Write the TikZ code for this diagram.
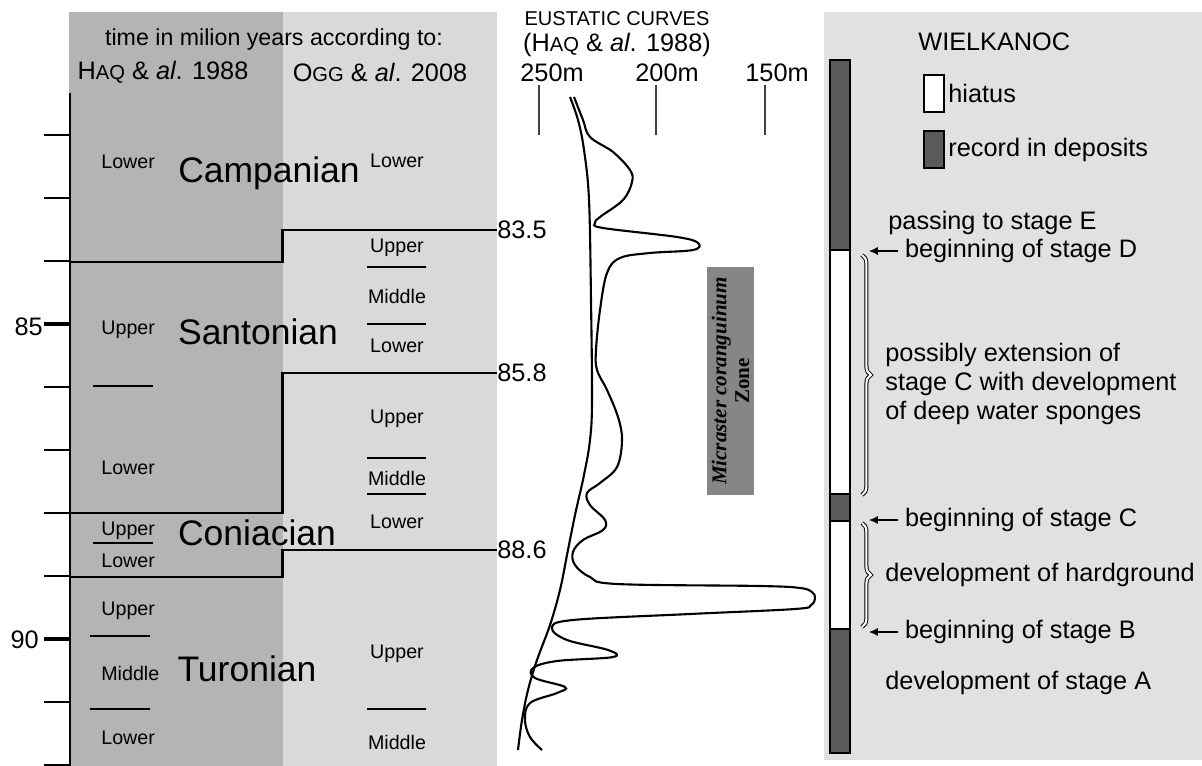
\documentclass[tikz,border=0pt]{standalone}
\usepackage{fontspec}
\setmainfont{Liberation Sans}
\newfontfamily\zonefont{Liberation Serif}
\usetikzlibrary{positioning, arrows.meta, decorations.pathreplacing}
\definecolor{haqgray}{HTML}{B4B4B4}
\definecolor{ogggray}{HTML}{D9D9D9}
\definecolor{sitegray}{HTML}{E1E1E1}
\definecolor{recordgray}{HTML}{5A5A5A}
\definecolor{zonegray}{HTML}{868686}
\newcommand{\fakesc}[1]{{\fontsize{11.5}{14}\selectfont #1}}
\tikzset{txt/.style = {inner sep=0, font=\fontsize{14.4}{16.4}\selectfont}}
\tikzset{headtxt/.style = {inner sep=0, font=\fontsize{13.2}{15}\selectfont}}
\tikzset{subtxt/.style = {inner sep=0, font=\fontsize{11.2}{13}\selectfont}}
\tikzset{stagetxt/.style = {inner sep=0, anchor=base, font=\fontsize{20.2}{24}\selectfont}}
\tikzset{boundary/.style = {line width=1.4pt}}
\tikzset{subline/.style = {line width=0.9pt}}
\tikzset{scaletick/.style = {line width=0.7pt, black!75}}
\tikzset{curve/.style = {line width=1.2pt}}
\tikzset{keybox/.style = {draw, line width=0.6pt, minimum width=0.4cm, minimum height=0.74cm, inner sep=0}}
\tikzset{pointer/.style = {-{Latex[length=5pt,width=4.5pt]}, line width=0.6pt}}
\tikzset{begtxt/.style = {txt, anchor=west, outer xsep=4pt}}
\tikzset{stagebrace/.style = {decorate, decoration={brace, amplitude=5pt}, double=white, double distance=1.2pt, line width=0.55pt}}

\begin{document}
\begin{tikzpicture}[x=0.02cm, y=-0.02cm]
  \useasboundingbox (0,0) rectangle (1202,766);
  \fill[haqgray] (69,12) rectangle (282.5,766);
  \fill[ogggray] (282.5,12) rectangle (497,766);
  \fill[sitegray] (824,12) rectangle (1202,760);

  \node[headtxt] (timehead) at (274,40) {time in milion years according to:};
  \node[txt] (haqhead) at (163,72) {H\fakesc{AQ} \& \textit{al}. 1988};
  \node[txt] (ogghead) at (380,72) {O\fakesc{GG} \& \textit{al}. 2008};

  \draw[line width=1.7pt] (70,93) -- (70,766);
  \foreach \t in {82,...,92}
    \draw[line width=1.2pt] (44,{324+(\t-85)*63}) -- (70,{324+(\t-85)*63});
  \foreach \t in {85,90}
    \draw[line width=2.4pt] (44,{324+(\t-85)*63}) -- (70,{324+(\t-85)*63});
  \node[txt, anchor=east] (a85) at (43,327) {85};
  \node[txt, anchor=east] (a90) at (39,640) {90};

  \node[txt, anchor=west] (b835) at (497,230) {83.5};
  \node[txt, anchor=west] (b858) at (497,373) {85.8};
  \node[txt, anchor=west] (b886) at (497,550) {88.6};
  \draw[boundary] (70,262) -- (282.5,262) -- (282.5,230) -- (b835.west);
  \draw[boundary] (70,513) -- (282.5,513) -- (282.5,373) -- (b858.west);
  \draw[boundary] (70,577) -- (282.5,577) -- (282.5,550) -- (b886.west);

  \foreach \y in {386,543} \draw[subline] (93,\y) -- (153,\y);
  \foreach \y in {636,709} \draw[subline] (90,\y) -- (150,\y);
  \foreach \y in {267,324,458,494,709} \draw[subline] (367,\y) -- (426,\y);

  \node[stagetxt] (campanian) at (269,183) {Campanian};
  \node[stagetxt] (santonian) at (258,345) {Santonian};
  \node[stagetxt] (coniacian) at (257,545) {Coniacian};
  \node[stagetxt] (turonian) at (247,681) {Turonian};

  \foreach \y/\nm/\txt in {162/hcl/Lower, 330/hsu/Upper, 468/hsl/Lower, 531/hcu/Upper,
      561/hcol/Lower, 611/htu/Upper, 673/htm/Middle, 738/htl/Lower}
    \node[subtxt, anchor=west] (\nm) at (101,\y) {\txt};
  \foreach \y/\nm/\txt in {161/ocl/Lower, 248/osu/Upper, 296/osm/Middle, 346/osl/Lower,
      419/ocu/Upper, 478/ocm/Middle, 522/ocol/Lower, 654/otu/Upper, 742/otm/Middle}
    \node[subtxt] (\nm) at (397,\y) {\txt};

  \node[inner sep=0, font=\fontsize{11.4}{13}\selectfont] (eushead) at (617,19) {EUSTATIC CURVES};
  \node[txt] (eusref) at (617,45) {(H\fakesc{AQ} \& \textit{al}. 1988)};
  \node[txt] (m250) at (552,73) {250m};
  \node[txt] (m200) at (667,73) {200m};
  \node[txt] (m150) at (777,73) {150m};
  \foreach \x in {539,656,765} \draw[scaletick] (\x,85) -- (\x,135);

  \draw[curve] plot[smooth, tension=0.6] coordinates {(570,97) (578,120) (584,150) (589,200)
    (591,300) (592,400) (590,440) (584,475) (575,515) (567,555) (560,590) (550,625)
    (537,660) (528,690) (522,720) (518,750)};
  \draw[curve] plot[smooth, tension=0.6] coordinates {(574,97) (583,120) (590,137) (613,152)
    (630,170) (632,182) (623,200) (600,217) (595,223) (603,228) (677,237) (698,243)
    (693,250) (650,253) (620,258) (607,273) (600,310) (596,350) (597,370) (607,390)
    (618,417) (622,440) (617,467) (600,483) (587,493) (590,505) (605,520) (603,530)
    (583,540) (573,552) (575,565) (590,577) (617,584) (760,586) (800,588) (812,592)
    (815,598) (811,605) (795,609) (690,614) (573,620) (552,628) (567,640) (608,650)
    (613,657) (557,661) (533,668) (535,678) (565,687) (557,693) (530,703) (525,720)
    (530,737) (542,750)};

  \node[fill=zonegray, rotate=90, minimum width=4.56cm, minimum height=0.94cm, inner sep=0,
    align=center, font={\zonefont\bfseries\fontsize{12}{13}\selectfont}] (zone) at (730.5,381)
    {\textit{Micraster coranguinum}\\Zone};

  \filldraw[fill=recordgray, line width=0.6pt] (830,60) rectangle (850,753);
  \filldraw[fill=white, line width=0.6pt] (830,250) rectangle (850,494);
  \filldraw[fill=white, line width=0.6pt] (830,521) rectangle (850,629);

  \node[txt, anchor=west] (site) at (918,42) {WIELKANOC};
  \node[keybox, fill=white] (keyhiatus) at (934,93.5) {};
  \node[txt, right=2pt of keyhiatus] (hiatustxt) {hiatus};
  \node[keybox, fill=recordgray] (keyrecord) at (934,149.5) {};
  \node[txt, right=2pt of keyrecord] (recordtxt) {record in deposits};

  \node[txt, anchor=west] (passE) at (888,223) {passing to stage E};
  \node[begtxt] (begD) at (898,251) {beginning of stage D};
  \node[txt, anchor=west, align=left] (sponges) at (885,384)
    {possibly extension of\\stage C with development\\of deep water sponges};
  \node[begtxt] (begC) at (898,520) {beginning of stage C};
  \node[txt, anchor=west] (hardground) at (885,575) {development of hardground};
  \node[begtxt] (begB) at (898,632) {beginning of stage B};
  \node[txt, anchor=west] (stageA) at (885,683) {development of stage A};

  \coordinate (tipD) at (869,251);
  \coordinate (tipC) at (869,520);
  \coordinate (tipB) at (869,632);
  \draw[pointer] (begD.west) -- (tipD);
  \draw[pointer] (begC.west) -- (tipC);
  \draw[pointer] (begB.west) -- (tipB);

  \coordinate (bra1top) at (862,255);
  \coordinate (bra1bot) at (862,495);
  \coordinate (bra2top) at (862,523);
  \coordinate (bra2bot) at (862,627);
  \draw[stagebrace] (bra1top) -- (bra1bot);
  \draw[stagebrace] (bra2top) -- (bra2bot);
\end{tikzpicture}
\end{document}
